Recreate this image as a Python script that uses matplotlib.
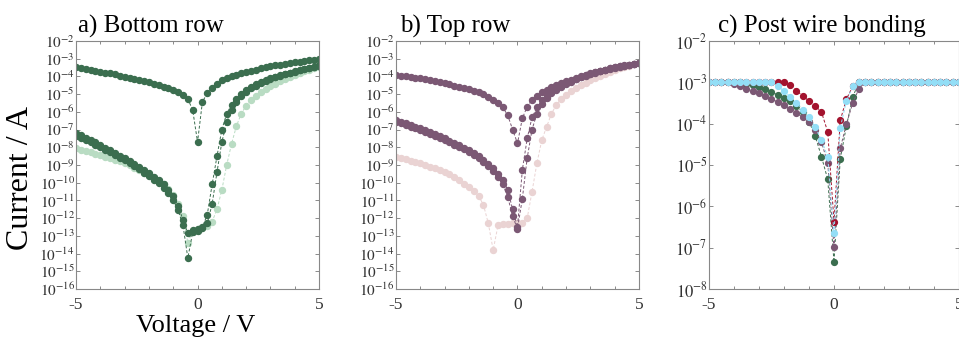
import matplotlib
matplotlib.use("Agg")
import matplotlib.pyplot as plt
import numpy as np
from matplotlib.ticker import FixedLocator, FuncFormatter, MultipleLocator

plt.rcParams['font.family'] = ['Liberation Serif', 'DejaVu Serif']
plt.rcParams['mathtext.fontset'] = 'stix'

# Sweep voltages (V)
volt_ab = [-5.0, -4.8, -4.6, -4.4, -4.2, -4.0, -3.8, -3.6, -3.4, -3.2,
           -3.0, -2.8, -2.6, -2.4, -2.2, -2.0, -1.8, -1.6, -1.4, -1.2,
           -1.0, -0.8, -0.6, -0.4, -0.2, 0.0, 0.2, 0.4, 0.6, 0.8,
           1.0, 1.2, 1.4, 1.6, 1.8, 2.0, 2.2, 2.4, 2.6, 2.8,
           3.0, 3.2, 3.4, 3.6, 3.8, 4.0, 4.2, 4.4, 4.6, 4.8, 5.0]
volt_c = [-5.0, -4.75, -4.5, -4.25, -4.0, -3.75, -3.5, -3.25, -3.0, -2.75,
          -2.5, -2.25, -2.0, -1.75, -1.5, -1.25, -1.0, -0.75, -0.5, -0.25,
          0.0, 0.25, 0.5, 0.75, 1.0, 1.25, 1.5, 1.75, 2.0, 2.25,
          2.5, 2.75, 3.0, 3.25, 3.5, 3.75, 4.0, 4.25, 4.5, 4.75, 5.0]

# log10 of current (A)
# a) bottom row
bottom_upper = [-3.49, -3.53, -3.58, -3.63, -3.68, -3.73, -3.78, -3.83, -3.89, -3.95,
                -4.01, -4.07, -4.13, -4.19, -4.26, -4.33, -4.41, -4.49, -4.57, -4.66,
                -4.77, -4.89, -5.04, -5.27, -5.90, -7.70, -5.43, -4.95, -4.67, -4.45,
                -4.22, -4.10, -4.00, -3.91, -3.82, -3.74, -3.67, -3.61, -3.55, -3.48,
                -3.42, -3.37, -3.33, -3.28, -3.24, -3.20, -3.16, -3.12, -3.09, -3.06, -3.03]
bottom_lower_1 = [-7.21, -7.33, -7.46, -7.60, -7.73, -7.87, -8.02, -8.17, -8.32, -8.47,
                  -8.63, -8.79, -8.96, -9.13, -9.30, -9.47, -9.66, -9.87, -10.10, -10.40,
                  -10.75, -11.30, -12.10, -12.85, -12.65, -12.60, -12.50, -11.80, -10.10, -8.50,
                  -7.00, -6.10, -5.60, -5.25, -4.98, -4.75, -4.58, -4.44, -4.32, -4.21,
                  -4.11, -4.02, -3.94, -3.86, -3.79, -3.72, -3.65, -3.58, -3.51, -3.45, -3.38]
bottom_lower_2 = [-7.35, -7.47, -7.60, -7.73, -7.87, -8.00, -8.14, -8.28, -8.43, -8.58,
                  -8.74, -8.90, -9.07, -9.25, -9.43, -9.62, -9.82, -10.04, -10.30, -10.60,
                  -10.98, -11.55, -12.40, -14.25, -12.80, -12.70, -12.55, -12.30, -11.20, -9.40,
                  -7.70, -6.60, -5.90, -5.45, -5.12, -4.88, -4.68, -4.52, -4.38, -4.26,
                  -4.15, -4.05, -3.96, -3.88, -3.80, -3.73, -3.66, -3.59, -3.52, -3.46, -3.40]
bottom_light = [-8.06, -8.13, -8.21, -8.29, -8.36, -8.44, -8.53, -8.62, -8.71, -8.80,
                -8.90, -9.02, -9.15, -9.29, -9.43, -9.57, -9.73, -9.90, -10.10, -10.35,
                -10.70, -11.20, -11.90, -13.40, -12.70, -12.60, -12.55, -12.45, -12.20, -11.50,
                -10.40, -9.00, -7.80, -6.80, -6.10, -5.65, -5.35, -5.10, -4.90, -4.72,
                -4.56, -4.42, -4.28, -4.15, -4.03, -3.92, -3.82, -3.72, -3.63, -3.55, -3.48]

# b) top row
top_upper = [-3.92, -3.96, -3.99, -4.03, -4.07, -4.11, -4.16, -4.21, -4.27, -4.33,
             -4.39, -4.45, -4.52, -4.59, -4.66, -4.73, -4.81, -4.90, -5.00, -5.15,
             -5.33, -5.50, -5.75, -6.20, -7.00, -7.78, -6.37, -5.70, -5.33, -5.08,
             -4.88, -4.74, -4.62, -4.50, -4.39, -4.28, -4.18, -4.08, -3.99, -3.90,
             -3.82, -3.75, -3.68, -3.62, -3.56, -3.50, -3.45, -3.40, -3.35, -3.30, -3.26]
top_lower_1 = [-6.46, -6.55, -6.64, -6.74, -6.83, -6.93, -7.04, -7.15, -7.27, -7.38,
               -7.50, -7.63, -7.76, -7.89, -8.02, -8.15, -8.33, -8.52, -8.72, -8.95,
               -9.19, -9.50, -9.85, -10.41, -11.50, -12.50, -9.28, -7.50, -6.30, -5.75,
               -5.33, -5.08, -4.86, -4.68, -4.52, -4.38, -4.25, -4.14, -4.03, -3.93,
               -3.84, -3.76, -3.68, -3.61, -3.54, -3.48, -3.43, -3.38, -3.33, -3.29, -3.26]
top_lower_2 = [-6.55, -6.64, -6.73, -6.83, -6.92, -7.02, -7.13, -7.24, -7.36, -7.47,
               -7.60, -7.73, -7.86, -7.99, -8.12, -8.26, -8.44, -8.63, -8.84, -9.08,
               -9.34, -9.70, -10.10, -10.80, -11.90, -12.60, -10.90, -8.60, -7.00, -6.10,
               -5.55, -5.20, -4.95, -4.75, -4.58, -4.43, -4.29, -4.17, -4.06, -3.96,
               -3.86, -3.78, -3.70, -3.62, -3.55, -3.49, -3.44, -3.39, -3.34, -3.30, -3.27]
top_light = [-8.53, -8.60, -8.68, -8.75, -8.83, -8.90, -8.99, -9.09, -9.18, -9.28,
             -9.38, -9.53, -9.70, -9.87, -10.05, -10.22, -10.45, -10.75, -11.25, -12.30,
             -13.80, -12.40, -12.35, -12.32, -12.30, -12.28, -12.25, -12.00, -10.50, -8.90,
             -7.60, -6.84, -6.10, -5.60, -5.28, -5.05, -4.85, -4.67, -4.50, -4.35,
             -4.20, -4.08, -3.96, -3.84, -3.73, -3.64, -3.55, -3.47, -3.39, -3.32, -3.26]

# c) post wire bonding (compliance at 1 mA)
bond_red = [-3.00, -3.00, -3.00, -3.00, -3.00, -3.00, -3.00, -3.00, -3.00, -3.00,
            -3.00, -3.00, -3.00, -3.06, -3.20, -3.33, -3.45, -3.57, -3.72, -4.20,
            -6.37, -3.92, -3.40, -3.10, -3.00, -3.00, -3.00, -3.00, -3.00, -3.00,
            -3.00, -3.00, -3.00, -3.00, -3.00, -3.00, -3.00, -3.00, -3.00, -3.00, -3.00]
bond_green = [-3.00, -3.00, -3.00, -3.00, -3.00, -3.00, -3.03, -3.07, -3.12, -3.17,
              -3.23, -3.30, -3.37, -3.46, -3.57, -3.72, -3.95, -4.30, -4.80, -5.35,
              -7.35, -4.85, -4.05, -3.35, -3.00, -3.00, -3.00, -3.00, -3.00, -3.00,
              -3.00, -3.00, -3.00, -3.00, -3.00, -3.00, -3.00, -3.00, -3.00, -3.00, -3.00]
bond_blue = [-3.00, -3.00, -3.00, -3.00, -3.00, -3.00, -3.00, -3.00, -3.00, -3.00,
             -3.00, -3.08, -3.22, -3.35, -3.50, -3.66, -3.84, -4.08, -4.40, -4.80,
             -6.64, -4.10, -3.45, -3.10, -3.00, -3.00, -3.00, -3.00, -3.00, -3.00,
             -3.00, -3.00, -3.00, -3.00, -3.00, -3.00, -3.00, -3.00, -3.00, -3.00, -3.00]
bond_purple = [-3.00, -3.00, -3.00, -3.00, -3.05, -3.10, -3.15, -3.20, -3.26, -3.33,
               -3.40, -3.48, -3.56, -3.65, -3.74, -3.85, -3.97, -4.15, -4.45, -4.95,
               -6.98, -4.60, -4.00, -3.50, -3.15, -3.00, -3.00, -3.00, -3.00, -3.00,
               -3.00, -3.00, -3.00, -3.00, -3.00, -3.00, -3.00, -3.00, -3.00, -3.00, -3.00]

GREEN = '#3b6e4f'
GREEN_LT = '#b9dcc3'
PURPLE = '#7b5874'
PINK_LT = '#ead3d3'
RED = '#a3132e'
BLUE_LT = '#93def6'


def draw(ax, v, logi, color, ms=4.3):
    ax.plot(v, 10.0 ** np.array(logi), '--', color=color, lw=0.7,
            marker='o', ms=ms, mec=color, mfc=color, dashes=(3, 2))


def style(ax, lo, hi, fs):
    ax.set_yscale('log')
    ax.set_xlim(-5, 5)
    ax.set_ylim(10.0 ** lo, 10.0 ** hi)
    ax.yaxis.set_major_locator(FixedLocator([10.0 ** k for k in range(lo, hi + 1)]))
    ax.yaxis.set_minor_locator(FixedLocator([]))
    ax.yaxis.set_major_formatter(FuncFormatter(lambda y, p: r'$10^{%d}$' % round(np.log10(y))))
    ax.xaxis.set_major_locator(FixedLocator([-5, 0, 5]))
    ax.xaxis.set_minor_locator(MultipleLocator(1))
    ax.xaxis.set_major_formatter(FuncFormatter(lambda x, p: '%d' % x))
    ax.tick_params(which='both', direction='in', top=True, right=True,
                   color='#777777', width=0.6, labelsize=fs, labelcolor='#333333')
    ax.tick_params(which='major', length=3)
    ax.tick_params(which='minor', length=2)
    ax.tick_params(axis='y', pad=1)
    ax.tick_params(axis='x', pad=6, labelsize=12.5)
    for s in ax.spines.values():
        s.set_color('#888888')
        s.set_linewidth(0.8)


fig = plt.figure(figsize=(9.59, 3.41), dpi=100)
ax_a = fig.add_axes([0.0793, 0.1525, 0.2534, 0.7273])
ax_b = fig.add_axes([0.4129, 0.1525, 0.2534, 0.7273])
ax_c = fig.add_axes([0.7393, 0.1525, 0.2607, 0.7273])

draw(ax_a, volt_ab, bottom_light, GREEN_LT)
draw(ax_a, volt_ab, bottom_lower_2, GREEN)
draw(ax_a, volt_ab, bottom_lower_1, GREEN)
draw(ax_a, volt_ab, bottom_upper, GREEN)
style(ax_a, -16, -2, 11)

draw(ax_b, volt_ab, top_light, PINK_LT)
draw(ax_b, volt_ab, top_lower_2, PURPLE)
draw(ax_b, volt_ab, top_lower_1, PURPLE)
draw(ax_b, volt_ab, top_upper, PURPLE)
style(ax_b, -16, -2, 11)

draw(ax_c, volt_c, bond_green, GREEN, 4.2)
draw(ax_c, volt_c, bond_purple, PURPLE, 4.2)
draw(ax_c, volt_c, bond_red, RED, 4.2)
draw(ax_c, volt_c, bond_blue, BLUE_LT, 4.2)
style(ax_c, -8, -2, 12)

ax_a.text(0.01, 1.035, 'a) Bottom row', transform=ax_a.transAxes, fontsize=18,
          ha='left', va='baseline')
ax_b.text(0.015, 1.035, 'b) Top row', transform=ax_b.transAxes, fontsize=18,
          ha='left', va='baseline')
ax_c.text(0.452, 1.035, 'c) Post wire bonding', transform=ax_c.transAxes, fontsize=18,
          ha='center', va='baseline')

fig.text(21 / 959, 1 - 178 / 341, 'Current / A', rotation=90, fontsize=23,
         ha='center', va='center')
fig.text(196 / 959, 1 - 326 / 341, 'Voltage / V', fontsize=19,
         ha='center', va='center')

fig.savefig('out.png', dpi=100)
